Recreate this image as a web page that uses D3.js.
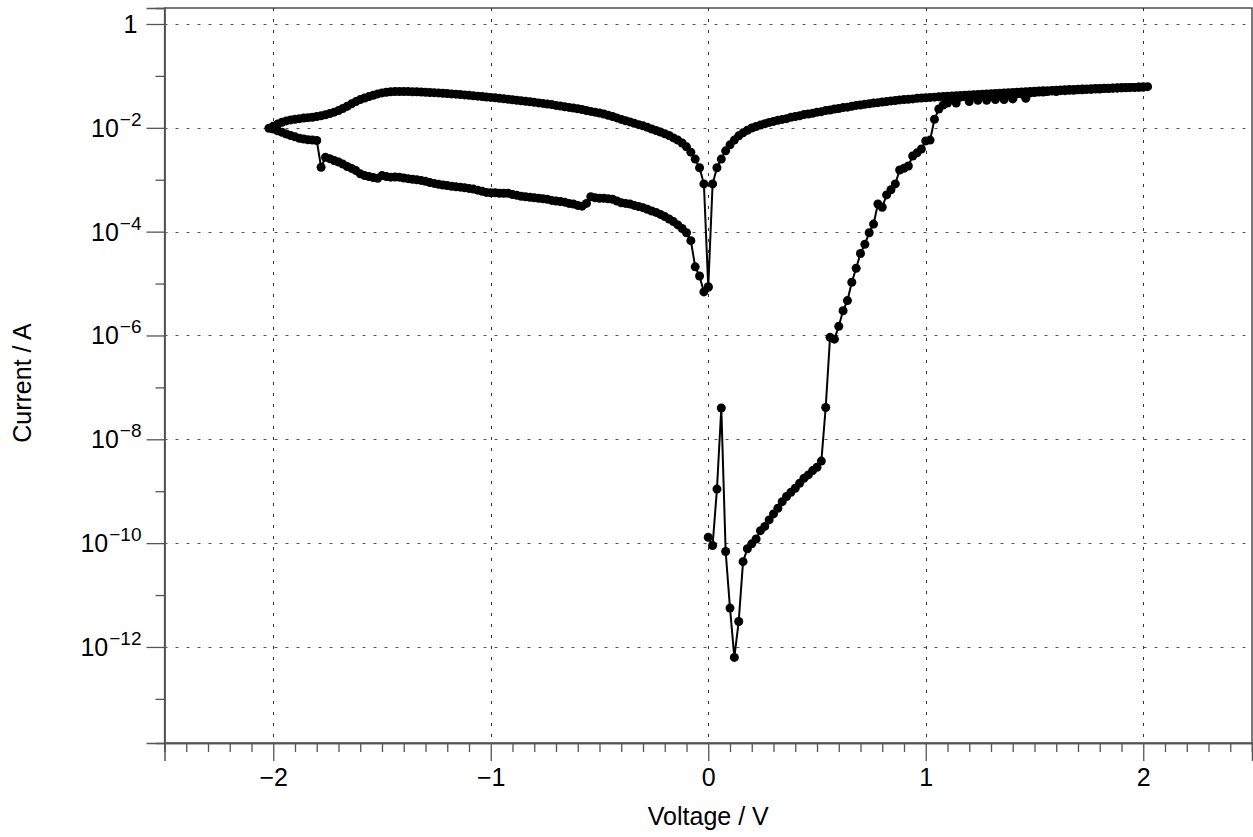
<!DOCTYPE html>
<html>
<head>
<meta charset="utf-8">
<script src="https://cdn.jsdelivr.net/npm/d3@7"></script>
<style>
  html, body { margin: 0; padding: 0; background: #fff; }
  svg { display: block; }
  text { font-family: "Liberation Sans", Arial, Helvetica, sans-serif; fill: #000; }
</style>
</head>
<body>
<svg id="chart" width="1253" height="837"></svg>
<script>
// ---------------- data (voltage V, current A) ----------------
// forward sweep 0 -> +2 V (SET)
const forwardSweep = [
  [0.00,1.3e-10],[0.02,9e-11],[0.04,1.1e-9],[0.06,4.0e-8],[0.08,6.9e-11],[0.10,5.6e-12],
  [0.12,6.3e-13],[0.14,3.1e-12],[0.16,4.4e-11],[0.18,7.8e-11],[0.20,9.7e-11],[0.22,1.2e-10],
  [0.24,1.74e-10],[0.26,2.1e-10],[0.28,2.8e-10],[0.30,3.65e-10],[0.32,4.7e-10],[0.34,6.3e-10],
  [0.36,7.9e-10],[0.38,9.5e-10],[0.40,1.14e-9],[0.42,1.42e-9],[0.44,1.78e-9],[0.46,2.06e-9],
  [0.48,2.5e-9],[0.50,2.9e-9],[0.52,3.8e-9],[0.54,4.1e-8],[0.56,9.2e-7],[0.58,8.5e-7],
  [0.60,1.5e-6],[0.62,3.0e-6],[0.64,4.7e-6],[0.66,1.06e-5],[0.68,1.97e-5],[0.70,3.8e-5],
  [0.72,5.7e-5],[0.74,9.5e-5],[0.76,1.4e-4],[0.78,3.4e-4],[0.80,2.95e-4],[0.82,5.1e-4],
  [0.84,6.4e-4],[0.86,8.3e-4],[0.88,1.54e-3],[0.90,1.66e-3],[0.92,1.84e-3],[0.94,2.87e-3],
  [0.96,3.3e-3],[0.98,3.9e-3],[1.00,5.6e-3],[1.02,5.8e-3],[1.04,1.46e-2],[1.06,2.3e-2],
  [1.08,2.75e-2],[1.10,3.0e-2],[1.12,3.6e-2],[1.14,3.0e-2],[1.16,3.9e-2],[1.18,4.0e-2],
  [1.20,3.2e-2],[1.22,4.1e-2],[1.24,3.4e-2],[1.26,4.2e-2],[1.28,3.4e-2],[1.30,4.3e-2],
  [1.32,3.5e-2],[1.34,4.3e-2],[1.36,3.5e-2],[1.38,4.4e-2],[1.40,3.6e-2],[1.42,4.5e-2],
  [1.44,4.5e-2],[1.46,3.7e-2],[1.48,4.7e-2],[1.50,4.8e-2],[1.52,4.9e-2],[1.54,4.9e-2],
  [1.56,5.0e-2],[1.58,5.1e-2],[1.60,5.0e-2],[1.62,5.2e-2],[1.64,5.2e-2],[1.66,5.3e-2],
  [1.68,5.3e-2],[1.70,5.4e-2],[1.72,5.4e-2],[1.74,5.5e-2],[1.76,5.5e-2],[1.78,5.6e-2],
  [1.80,5.6e-2],[1.82,5.7e-2],[1.84,5.7e-2],[1.86,5.8e-2],[1.88,5.8e-2],[1.90,5.9e-2],
  [1.92,5.9e-2],[1.94,6.0e-2],[1.96,6.0e-2],[1.98,6.1e-2],[2.00,6.1e-2],[2.02,6.2e-2]
];
// return sweep +2 -> 0 V (ON state)
const returnSweep = [
  [2.00,6.1e-2],[1.98,6.05e-2],[1.96,6.0e-2],[1.94,6.0e-2],[1.92,5.95e-2],[1.90,5.9e-2],
  [1.88,5.9e-2],[1.86,5.85e-2],[1.84,5.8e-2],[1.82,5.8e-2],[1.80,5.75e-2],[1.78,5.7e-2],
  [1.76,5.65e-2],[1.74,5.6e-2],[1.72,5.6e-2],[1.70,5.55e-2],[1.68,5.5e-2],[1.66,5.45e-2],
  [1.64,5.4e-2],[1.62,5.35e-2],[1.60,5.3e-2],[1.58,5.25e-2],[1.56,5.2e-2],[1.54,5.15e-2],
  [1.52,5.1e-2],[1.50,5.05e-2],[1.48,5.0e-2],[1.46,4.95e-2],[1.44,4.9e-2],[1.42,4.85e-2],
  [1.40,4.8e-2],[1.38,4.75e-2],[1.36,4.7e-2],[1.34,4.65e-2],[1.32,4.6e-2],[1.30,4.55e-2],
  [1.28,4.5e-2],[1.26,4.45e-2],[1.24,4.4e-2],[1.22,4.35e-2],[1.20,4.3e-2],[1.18,4.25e-2],
  [1.16,4.2e-2],[1.14,4.15e-2],[1.12,4.1e-2],[1.10,4.05e-2],[1.08,4.0e-2],[1.06,3.95e-2],
  [1.04,3.9e-2],[1.02,3.85e-2],[1.00,3.8e-2],[0.98,3.75e-2],[0.96,3.7e-2],[0.94,3.6e-2],
  [0.92,3.55e-2],[0.90,3.5e-2],[0.88,3.45e-2],[0.86,3.35e-2],[0.84,3.3e-2],[0.82,3.2e-2],
  [0.80,3.15e-2],[0.78,3.05e-2],[0.76,3.0e-2],[0.74,2.9e-2],[0.72,2.85e-2],[0.70,2.75e-2],
  [0.68,2.7e-2],[0.66,2.6e-2],[0.64,2.5e-2],[0.62,2.45e-2],[0.60,2.35e-2],[0.58,2.3e-2],
  [0.56,2.2e-2],[0.54,2.15e-2],[0.52,2.05e-2],[0.50,2.0e-2],[0.48,1.9e-2],[0.46,1.85e-2],
  [0.44,1.8e-2],[0.42,1.7e-2],[0.40,1.65e-2],[0.38,1.6e-2],[0.36,1.5e-2],[0.34,1.45e-2],
  [0.32,1.4e-2],[0.30,1.33e-2],[0.28,1.27e-2],[0.26,1.2e-2],[0.24,1.13e-2],[0.22,1.06e-2],
  [0.20,9.9e-3],[0.18,9.0e-3],[0.16,8.0e-3],[0.14,7.0e-3],[0.12,5.8e-3],[0.10,4.7e-3],
  [0.08,3.6e-3],[0.06,2.5e-3],[0.04,1.7e-3],[0.02,8.3e-4],[0.00,8.5e-6]
];
// negative sweep 0 -> -2 V (ON state, RESET at the end)
const negativeSweep = [
  [-0.02,8.3e-4],[-0.04,1.7e-3],[-0.06,2.5e-3],[-0.08,3.4e-3],[-0.10,4.3e-3],[-0.12,5.1e-3],
  [-0.14,5.8e-3],[-0.16,6.4e-3],[-0.18,7.1e-3],[-0.20,7.7e-3],[-0.22,8.3e-3],[-0.24,8.9e-3],
  [-0.26,9.5e-3],[-0.28,1.02e-2],[-0.30,1.09e-2],[-0.32,1.15e-2],[-0.34,1.22e-2],[-0.36,1.3e-2],
  [-0.38,1.37e-2],[-0.40,1.45e-2],[-0.42,1.55e-2],[-0.44,1.65e-2],[-0.46,1.75e-2],[-0.48,1.85e-2],
  [-0.50,1.93e-2],[-0.52,2.0e-2],[-0.54,2.07e-2],[-0.56,2.15e-2],[-0.58,2.25e-2],[-0.60,2.33e-2],
  [-0.62,2.4e-2],[-0.64,2.47e-2],[-0.66,2.55e-2],[-0.68,2.62e-2],[-0.70,2.7e-2],[-0.72,2.8e-2],
  [-0.74,2.88e-2],[-0.76,2.95e-2],[-0.78,3.02e-2],[-0.80,3.1e-2],[-0.82,3.17e-2],[-0.84,3.25e-2],
  [-0.86,3.32e-2],[-0.88,3.4e-2],[-0.90,3.47e-2],[-0.92,3.55e-2],[-0.94,3.63e-2],[-0.96,3.7e-2],
  [-0.98,3.78e-2],[-1.00,3.85e-2],[-1.02,3.92e-2],[-1.04,4.0e-2],[-1.06,4.07e-2],[-1.08,4.15e-2],
  [-1.10,4.22e-2],[-1.12,4.3e-2],[-1.14,4.37e-2],[-1.16,4.45e-2],[-1.18,4.5e-2],[-1.20,4.57e-2],
  [-1.22,4.63e-2],[-1.24,4.7e-2],[-1.26,4.75e-2],[-1.28,4.8e-2],[-1.30,4.85e-2],[-1.32,4.9e-2],
  [-1.34,4.93e-2],[-1.36,4.96e-2],[-1.38,4.98e-2],[-1.40,5.0e-2],[-1.42,5.0e-2],[-1.44,4.98e-2],
  [-1.46,4.95e-2],[-1.48,4.85e-2],[-1.50,4.7e-2],[-1.52,4.5e-2],[-1.54,4.25e-2],[-1.56,4.0e-2],
  [-1.58,3.75e-2],[-1.60,3.5e-2],[-1.62,3.2e-2],[-1.64,2.9e-2],[-1.66,2.6e-2],[-1.68,2.35e-2],
  [-1.70,2.15e-2],[-1.72,2.0e-2],[-1.74,1.88e-2],[-1.76,1.78e-2],[-1.78,1.7e-2],[-1.80,1.65e-2],
  [-1.82,1.6e-2],[-1.84,1.57e-2],[-1.86,1.54e-2],[-1.88,1.5e-2],[-1.90,1.46e-2],[-1.92,1.42e-2],
  [-1.94,1.36e-2],[-1.96,1.28e-2],[-1.98,1.18e-2],[-2.00,1.07e-2],[-2.02,9.8e-3]
];
// reset return sweep -2 -> 0 V (OFF state)
const resetReturn = [
  [-2.00,9.5e-3],[-1.98,8.8e-3],[-1.96,8.2e-3],[-1.94,7.6e-3],[-1.92,7.1e-3],[-1.90,6.7e-3],
  [-1.88,6.3e-3],[-1.86,6.1e-3],[-1.84,5.9e-3],[-1.82,5.8e-3],[-1.80,5.7e-3],[-1.78,1.74e-3],
  [-1.76,2.7e-3],[-1.74,2.55e-3],[-1.72,2.35e-3],[-1.70,2.2e-3],[-1.68,2.0e-3],[-1.66,1.8e-3],
  [-1.64,1.65e-3],[-1.62,1.5e-3],[-1.60,1.3e-3],[-1.58,1.2e-3],[-1.56,1.15e-3],[-1.54,1.1e-3],
  [-1.52,1.07e-3],[-1.50,1.2e-3],[-1.48,1.15e-3],[-1.46,1.12e-3],[-1.44,1.13e-3],[-1.42,1.12e-3],
  [-1.40,1.08e-3],[-1.38,1.05e-3],[-1.36,1.02e-3],[-1.34,1.0e-3],[-1.32,9.7e-4],[-1.30,9.3e-4],
  [-1.28,8.8e-4],[-1.26,8.5e-4],[-1.24,8.2e-4],[-1.22,7.9e-4],[-1.20,7.7e-4],[-1.18,7.5e-4],
  [-1.16,7.3e-4],[-1.14,7.2e-4],[-1.12,7.0e-4],[-1.10,6.8e-4],[-1.08,6.6e-4],[-1.06,6.3e-4],
  [-1.04,6.0e-4],[-1.02,5.7e-4],[-1.00,5.6e-4],[-0.98,5.6e-4],[-0.96,5.5e-4],[-0.94,5.5e-4],
  [-0.92,5.5e-4],[-0.90,5.2e-4],[-0.88,5.0e-4],[-0.86,4.8e-4],[-0.84,4.7e-4],[-0.82,4.6e-4],
  [-0.80,4.5e-4],[-0.78,4.4e-4],[-0.76,4.3e-4],[-0.74,4.2e-4],[-0.72,4.0e-4],[-0.70,3.9e-4],
  [-0.68,3.8e-4],[-0.66,3.7e-4],[-0.64,3.5e-4],[-0.62,3.4e-4],[-0.60,3.2e-4],[-0.58,3.1e-4],
  [-0.56,3.5e-4],[-0.54,4.7e-4],[-0.52,4.5e-4],[-0.50,4.4e-4],[-0.48,4.4e-4],[-0.46,4.3e-4],
  [-0.44,4.2e-4],[-0.42,3.9e-4],[-0.40,3.6e-4],[-0.38,3.5e-4],[-0.36,3.4e-4],[-0.34,3.2e-4],
  [-0.32,3.05e-4],[-0.30,2.9e-4],[-0.28,2.7e-4],[-0.26,2.5e-4],[-0.24,2.35e-4],[-0.22,2.15e-4],
  [-0.20,1.95e-4],[-0.18,1.75e-4],[-0.16,1.56e-4],[-0.14,1.35e-4],[-0.12,1.15e-4],[-0.10,9.5e-5],
  [-0.08,6.7e-5],[-0.06,2.1e-5],[-0.04,1.4e-5],[-0.02,6.9e-6],[0.00,8.7e-6]
];

// axis ticks / labels
const xMajorTicks = [-2, -1, 0, 1, 2];
const xMinorTicks = [-2.5,-2.4,-2.3,-2.2,-2.1,-1.9,-1.8,-1.7,-1.6,-1.5,-1.4,-1.3,-1.2,-1.1,
  -0.9,-0.8,-0.7,-0.6,-0.5,-0.4,-0.3,-0.2,-0.1,0.1,0.2,0.3,0.4,0.5,0.6,0.7,0.8,0.9,
  1.1,1.2,1.3,1.4,1.5,1.6,1.7,1.8,1.9,2.1,2.2,2.3,2.4,2.5];
const yMajorExponents = [0, -2, -4, -6, -8, -10, -12];
const yMinorExponents = [-1, -3, -5, -7, -9, -11, -13];
const xTitle = "Voltage / V";
const yTitle = "Current / A";

// ---------------- layout ----------------
const svg = d3.select("#chart");
const plot = { left: 164.5, right: 1252, top: 8, bottom: 743 };
const x = d3.scaleLinear().domain([-2.5, 2.5]).range([plot.left, plot.right]);
const y = d3.scaleLog().domain([Math.pow(10, 0.308), Math.pow(10, -13.85)]).range([plot.top, plot.bottom]);

const axisColor = "#555";
const gridColor = "#333";

// grid lines (dotted)
const grid = svg.append("g");
grid.selectAll("line.gx").data(xMajorTicks).enter().append("line")
  .attr("x1", d => Math.round(x(d)) + 0.5).attr("x2", d => Math.round(x(d)) + 0.5)
  .attr("y1", plot.top).attr("y2", plot.bottom)
  .attr("stroke", gridColor).attr("stroke-width", 1).attr("stroke-dasharray", "3,8");
grid.selectAll("line.gy").data(yMajorExponents).enter().append("line")
  .attr("x1", plot.left).attr("x2", plot.right)
  .attr("y1", d => Math.round(y(Math.pow(10, d))) + 0.5).attr("y2", d => Math.round(y(Math.pow(10, d))) + 0.5)
  .attr("stroke", "#555").attr("stroke-width", 1).attr("stroke-dasharray", "3,8");

// frame (top/right)
svg.append("rect")
  .attr("x", plot.left).attr("y", plot.top)
  .attr("width", plot.right - plot.left).attr("height", plot.bottom - plot.top)
  .attr("fill", "none").attr("stroke", "#222").attr("stroke-width", 1.2);

// x axis
const xAxisMajor = d3.axisBottom(x).tickValues(xMajorTicks).tickSize(18).tickPadding(7)
  .tickFormat(d => d < 0 ? "\u2212" + Math.abs(d) : String(d));
const xAxisMinor = d3.axisBottom(x).tickValues(xMinorTicks).tickSize(9).tickFormat("");
const gxMinor = svg.append("g").attr("transform", `translate(0,${plot.bottom})`).call(xAxisMinor);
const gx = svg.append("g").attr("transform", `translate(0,${plot.bottom})`).call(xAxisMajor);
[gx, gxMinor].forEach(g => {
  g.select(".domain").attr("stroke", axisColor).attr("stroke-width", 1.5);
  g.selectAll(".tick line").attr("stroke", axisColor).attr("stroke-width", 1.3);
});
gx.selectAll(".tick text").attr("font-size", 25).attr("fill", "#000")
  .attr("font-family", '"Liberation Sans", Arial, Helvetica, sans-serif');

// y axis
const yAxisMajor = d3.axisLeft(y).tickValues(yMajorExponents.map(e => Math.pow(10, e))).tickSize(18).tickFormat("");
const yAxisMinor = d3.axisLeft(y).tickValues(yMinorExponents.map(e => Math.pow(10, e))).tickSize(9).tickFormat("");
const gyMinor = svg.append("g").attr("transform", `translate(${plot.left},0)`).call(yAxisMinor);
const gy = svg.append("g").attr("transform", `translate(${plot.left},0)`).call(yAxisMajor);
[gy, gyMinor].forEach(g => {
  g.select(".domain").attr("stroke", axisColor).attr("stroke-width", 1.5);
  g.selectAll(".tick line").attr("stroke", axisColor).attr("stroke-width", 1.3);
});
// y tick labels with superscript exponents
const yLab = svg.append("g");
yMajorExponents.forEach(e => {
  const t = yLab.append("text")
    .attr("x", plot.left - 23).attr("y", y(Math.pow(10, e)) + 9)
    .attr("text-anchor", "end").attr("font-size", 25);
  if (e === 0) {
    t.attr("x", plot.left - 27).text("1");
  } else {
    t.append("tspan").text("10");
    t.append("tspan").attr("font-size", 19).attr("dx", 1).attr("dy", -11).text("\u2212" + Math.abs(e));
  }
});

// axis titles
svg.append("text").attr("x", (plot.left + plot.right) / 2).attr("y", 825)
  .attr("text-anchor", "middle").attr("font-size", 25).text(xTitle);
svg.append("text").attr("transform", `translate(31,${383}) rotate(-90)`)
  .attr("text-anchor", "middle").attr("font-size", 25).text(yTitle);

// ---------------- data marks ----------------
const allPoints = forwardSweep.concat(returnSweep, negativeSweep, resetReturn);
const line = d3.line().x(d => x(d[0])).y(d => y(d[1]));
const marks = svg.append("g");
marks.append("path").datum(allPoints).attr("d", line)
  .attr("fill", "none").attr("stroke", "#000").attr("stroke-width", 2).attr("stroke-linejoin", "round");
marks.selectAll("circle").data(allPoints).enter().append("circle")
  .attr("cx", d => x(d[0])).attr("cy", d => y(d[1])).attr("r", 4.5).attr("fill", "#000");
</script>
</body>
</html>
